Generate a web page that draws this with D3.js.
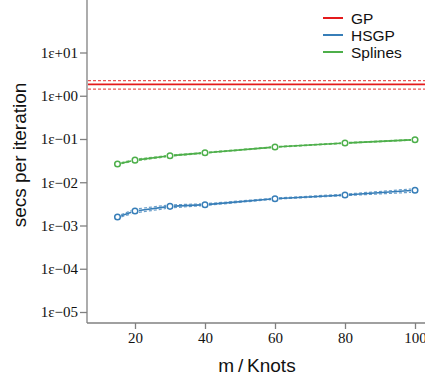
<!DOCTYPE html>
<html>
<head>
<meta charset="utf-8">
<script src="https://cdn.jsdelivr.net/npm/d3@7"></script>
<style>
  body { margin: 0; background: #fff; }
  svg { display: block; }
</style>
</head>
<body>
<div id="chart"></div>
<script>
const width = 425;
const height = 383;

// Data.
const knots = [15, 20, 30, 40, 60, 80, 100];

const hsgpMid = [0.00157, 0.00216, 0.00277, 0.00303, 0.00417, 0.00507, 0.00652];
const hsgpLow = [0.00150, 0.00195, 0.00255, 0.00290, 0.00405, 0.00490, 0.00590];
const hsgpHigh = [0.00165, 0.00240, 0.00300, 0.00318, 0.00430, 0.00530, 0.00710];

const splinesMid = [0.0264, 0.0324, 0.0410, 0.0480, 0.0653, 0.0807, 0.0964];
const splinesLow = [0.0258, 0.0310, 0.0398, 0.0468, 0.0640, 0.0790, 0.0945];
const splinesHigh = [0.0270, 0.0340, 0.0422, 0.0492, 0.0666, 0.0824, 0.0985];

const gpMid = 1.84;
const gpLow = 1.43;
const gpHigh = 2.23;

const yTicks = [1e1, 1e0, 1e-1, 1e-2, 1e-3, 1e-4, 1e-5];
const yTickLabels = ["1\u03b5+01", "1\u03b5+00", "1\u03b5\u221201", "1\u03b5\u221202", "1\u03b5\u221203", "1\u03b5\u221204", "1\u03b5\u221205"];
const xTicks = [20, 40, 60, 80, 100];

const seriesNames = ["GP", "HSGP", "Splines"];
const colours = { GP: "#e41a1c", HSGP: "#377eb8", Splines: "#4daf4a" };

const left = 87, bottom = 323;
const serif = "'Liberation Serif', 'Times New Roman', Times, serif";
const sans = "'Liberation Sans', Arial, Helvetica, sans-serif";

const x = d3.scaleLinear().domain([20, 100]).range([135, 415]);
const y = d3.scaleLog().domain([1e1, 1e-5]).range([52.5, 312]);

const svg = d3.select("#chart")
  .append("svg")
  .attr("width", width)
  .attr("height", height);

// axes
const yAxis = svg.append("g")
  .attr("transform", `translate(${left},0)`)
  .call(d3.axisLeft(y).tickValues(yTicks).tickFormat((d, i) => yTickLabels[i]).tickSize(7).tickPadding(2));
yAxis.select(".domain").remove();
yAxis.append("line").attr("x1", 0).attr("x2", 0).attr("y1", 0).attr("y2", bottom);

const xAxis = svg.append("g")
  .attr("transform", `translate(0,${bottom})`)
  .call(d3.axisBottom(x).tickValues(xTicks).tickSize(6).tickPadding(3));
xAxis.select(".domain").remove();
xAxis.append("line").attr("x1", left).attr("x2", width).attr("y1", 0).attr("y2", 0);

[xAxis, yAxis].forEach(a => {
  a.style("font-family", serif).style("font-size", "15px");
  a.selectAll("text").style("font-family", serif).style("font-size", "15px").style("fill", "#111");
  a.selectAll("line").attr("stroke", "#808080").attr("stroke-width", 1.3);
});

// axis titles
svg.append("text")
  .attr("transform", "translate(26,155) rotate(-90)")
  .attr("text-anchor", "middle")
  .style("font-family", sans)
  .style("font-size", "19px")
  .attr("fill", "#111")
  .text("secs per iteration");

svg.append("text")
  .attr("x", 257)
  .attr("y", 372)
  .attr("text-anchor", "middle")
  .style("font-family", sans)
  .style("font-size", "19px")
  .attr("fill", "#111")
  .text("m\u2009/\u2009Knots");

const plot = svg.append("g");

// GP horizontal lines
[[gpHigh, true], [gpLow, true], [gpMid, false]].forEach(([v, dashed]) => {
  plot.append("line")
    .attr("x1", left + 1).attr("x2", width)
    .attr("y1", y(v)).attr("y2", y(v))
    .attr("stroke", colours.GP)
    .attr("stroke-opacity", dashed ? 0.75 : 1)
    .attr("stroke-width", dashed ? 1.2 : 1.8)
    .attr("stroke-dasharray", dashed ? "3,2" : null);
});

// segments with gaps around points (like type = "b")
const gap = 4;
const segments = vals => d3.pairs(knots.map((k, i) => [x(k), y(vals[i])])).map(([a, b]) => {
  const dx = b[0] - a[0], dy = b[1] - a[1];
  const len = Math.hypot(dx, dy);
  const ux = dx / len, uy = dy / len;
  return [a[0] + ux * gap, a[1] + uy * gap, b[0] - ux * gap, b[1] - uy * gap];
});

const drawSeries = (name, mid, low, high) => {
  const c = colours[name];
  [low, high].forEach(vals => {
    plot.append("g").selectAll("line")
      .data(segments(vals))
      .join("line")
      .attr("x1", d => d[0]).attr("y1", d => d[1])
      .attr("x2", d => d[2]).attr("y2", d => d[3])
      .attr("stroke", c)
      .attr("stroke-opacity", 0.75)
      .attr("stroke-width", 1.2)
      .attr("stroke-dasharray", "3,2");
  });
  plot.append("g").selectAll("line")
    .data(segments(mid))
    .join("line")
    .attr("x1", d => d[0]).attr("y1", d => d[1])
    .attr("x2", d => d[2]).attr("y2", d => d[3])
    .attr("stroke", c)
    .attr("stroke-width", 1.6);
  plot.append("g").selectAll("circle")
    .data(knots.map((k, i) => [k, mid[i]]))
    .join("circle")
    .attr("cx", d => x(d[0]))
    .attr("cy", d => y(d[1]))
    .attr("r", 2.8)
    .attr("fill", "none")
    .attr("stroke", c)
    .attr("stroke-width", 1.5);
};

drawSeries("Splines", splinesMid, splinesLow, splinesHigh);
drawSeries("HSGP", hsgpMid, hsgpLow, hsgpHigh);

// legend
const legend = svg.append("g").attr("transform", "translate(323,18)");
seriesNames.forEach((name, i) => {
  const g = legend.append("g").attr("transform", `translate(0,${i * 17})`);
  g.append("line").attr("x1", 0).attr("x2", 20).attr("y1", 0).attr("y2", 0)
    .attr("stroke", colours[name]).attr("stroke-width", 2);
  g.append("text").attr("x", 28).attr("y", 5.5)
    .style("font-family", sans)
    .style("font-size", "15.5px")
    .attr("fill", "#111")
    .text(name);
});
</script>
</body>
</html>
